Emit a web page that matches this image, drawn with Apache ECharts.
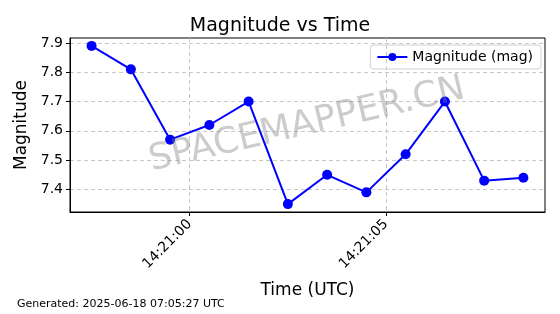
<!DOCTYPE html>
<html><head><meta charset="utf-8">
<script src="https://cdn.jsdelivr.net/npm/echarts@6/dist/echarts.min.js"></script>
<style>html,body{margin:0;padding:0;background:#fff}#c{width:560px;height:314px}</style>
</head><body><div id="c"></div>
<script>
const times = ['14:20:57.5','14:20:58.5','14:20:59.5','14:21:00.5','14:21:01.5','14:21:02.5','14:21:03.5','14:21:04.5','14:21:05.5','14:21:06.5','14:21:07.5','14:21:08.5'];
const magnitudes = [7.89, 7.81, 7.57, 7.62, 7.70, 7.35, 7.45, 7.39, 7.52, 7.70, 7.43, 7.44];
const xTickLabels = ['14:21:00', '14:21:05'];
const yTicks = [7.4, 7.5, 7.6, 7.7, 7.8, 7.9];

const ref = 14*3600 + 21*60;
function toSec(t){const p=t.split(':');return (+p[0])*3600+(+p[1])*60+parseFloat(p[2])-ref;}
const xs = times.map(toSec);
const xTicks = xTickLabels.map(toSec);
const data = xs.map((x,i)=>[x, magnitudes[i]]);
const xMin = Math.min(...xs), xMax = Math.max(...xs), xr = xMax - xMin;
const yMin = Math.min(...magnitudes), yMax = Math.max(...magnitudes), yr = yMax - yMin;
function fmt(v){const s=Math.round(v+ref);const h=Math.floor(s/3600),m=Math.floor(s%3600/60),ss=s%60;const p=n=>String(n).padStart(2,'0');return p(h)+':'+p(m)+':'+p(ss);}

const F = 'DejaVu Sans';
const chart = echarts.init(document.getElementById('c'), null, {renderer:'canvas'});
chart.setOption({
  animation:false,
  title:{text:'Magnitude vs Time', left:'center', top:12, textStyle:{fontFamily:F, fontSize:19, fontWeight:'normal', color:'#000'}},
  grid:{left:70, right:15, top:38, bottom:102, show:true, borderColor:'#000', borderWidth:1, containLabel:false},
  legend:{right:19, top:45, itemWidth:30, itemHeight:10, itemGap:8, padding:[5,8,5,6], borderColor:'#d0d0d0', borderWidth:1, borderRadius:3, textStyle:{fontFamily:F, fontSize:14, color:'#000'}, data:['Magnitude (mag)']},
  xAxis:{type:'value', min:xMin-0.05*xr, max:xMax+0.05*xr, name:'Time (UTC)', nameLocation:'middle', nameGap:70,
    nameTextStyle:{fontFamily:F, fontSize:17, color:'#000'},
    axisLine:{show:true, onZero:false, lineStyle:{color:'#000', width:1}},
    axisTick:{show:true, length:4, customValues:xTicks, lineStyle:{color:'#000'}},
    axisLabel:{customValues:xTicks, rotate:45, margin:10, formatter:fmt, fontFamily:F, fontSize:14, color:'#000'},
    splitLine:{show:true, lineStyle:{color:'#c8c8c8', type:[4,3], width:1}}},
  yAxis:{type:'value', min:yMin-0.05*yr, max:yMax+0.05*yr, name:'Magnitude', nameLocation:'middle', nameGap:37,
    nameTextStyle:{fontFamily:F, fontSize:17, color:'#000'},
    axisLine:{show:true, onZero:false, lineStyle:{color:'#000', width:1}},
    axisTick:{show:true, length:4, customValues:yTicks, lineStyle:{color:'#000'}},
    axisLabel:{customValues:yTicks, margin:7, formatter:v=>v.toFixed(1), fontFamily:F, fontSize:14, color:'#000'},
    splitLine:{show:true, lineStyle:{color:'#c8c8c8', type:[4,3], width:1}}},
  graphic:[
    {type:'text', left:17, top:299, style:{text:'Generated: 2025-06-18 07:05:27 UTC', font:'11px "DejaVu Sans"', fill:'#000'}},
    {type:'text', x:307, y:125, rotation:13*Math.PI/180, z:100, style:{text:'SPACEMAPPER.CN', font:'36px "DejaVu Sans"', fill:'rgba(128,128,128,0.4)', align:'center', verticalAlign:'middle'}}
  ],
  series:[{name:'Magnitude (mag)', type:'line', data:data, symbol:'circle', symbolSize:10, showSymbol:true,
    lineStyle:{color:'#0000ff', width:2}, itemStyle:{color:'#0000ff'}}]
});
</script></body></html>
